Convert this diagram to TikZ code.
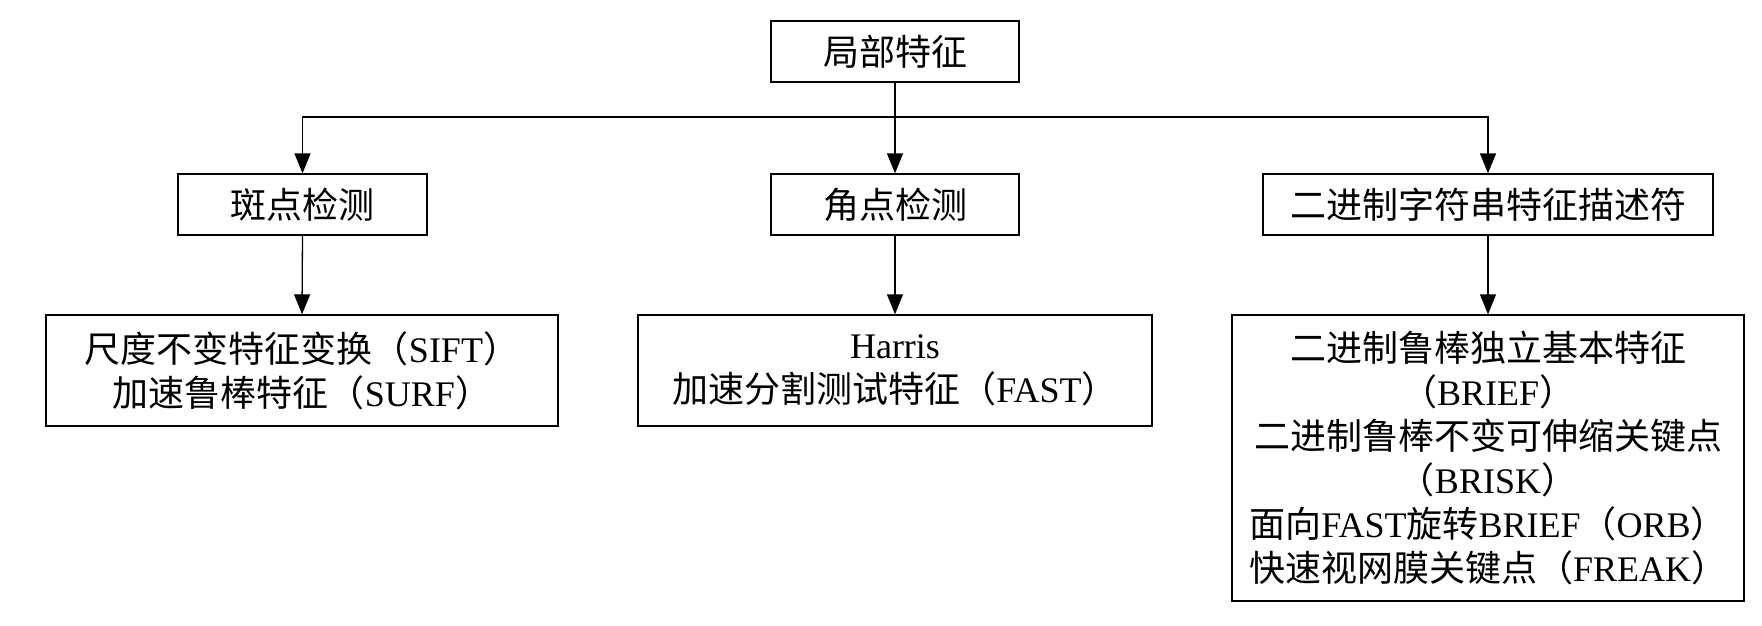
\documentclass[tikz,border=0pt]{standalone}
\usepackage{fontspec}
\setmainfont{Liberation Serif}
\newfontfamily\cjk{Noto Sans CJK SC}
\newcommand\zh[1]{{\cjk #1}}
\usetikzlibrary{arrows.meta}
\begin{document}
\begin{tikzpicture}[x=1pt,y=1pt,
  box/.style={draw, line width=1.3pt, align=center, inner sep=0pt,
    font=\fontsize{36}{44}\selectfont},
  arr/.style={line width=1.3pt, -{Triangle[length=20pt,width=16pt]}},
  ln/.style={line width=1.3pt}]
\useasboundingbox (0,0) rectangle (1762,-626);
\node[box, minimum width=248pt, minimum height=61pt] (top) at (895,-51.5) {\zh{局部特征}};
\node[box, minimum width=249pt, minimum height=61pt] (blob) at (302.5,-204.5) {\zh{斑点检测}};
\node[box, minimum width=248pt, minimum height=61pt] (corner) at (895,-204.5) {\zh{角点检测}};
\node[box, minimum width=450pt, minimum height=61pt] (binary) at (1488,-204.5) {\zh{二进制字符串特征描述符}};
\node[box, minimum width=512pt, minimum height=111pt] (sift) at (302,-370.5)
  {\zh{尺度不变特征变换（}SIFT\zh{）}\\\zh{加速鲁棒特征（}SURF\zh{）}};
\node[box, minimum width=514pt, minimum height=111pt] (harris) at (895,-370.5)
  {Harris\\\zh{加速分割测试特征（}FAST\zh{）}};
\node[box, minimum width=512pt, minimum height=286pt] (brief) at (1488,-458)
  {\zh{二进制鲁棒独立基本特征}\\\zh{（}BRIEF\zh{）}\\\zh{二进制鲁棒不变可伸缩关键点}\\\zh{（}BRISK\zh{）}\\\zh{面向}FAST\zh{旋转}BRIEF\zh{（}ORB\zh{）}\\\zh{快速视网膜关键点（}FREAK\zh{）}};
\coordinate (j) at (895,-117);
\draw[arr] (top.south) -- (corner.north);
\draw[arr] (j) -| (blob.north);
\draw[arr] (j) -| (binary.north);
\draw[arr] (blob.south) -- (sift.north);
\draw[arr] (corner.south) -- (harris.north);
\draw[arr] (binary.south) -- (brief.north);
\end{tikzpicture}
\end{document}
